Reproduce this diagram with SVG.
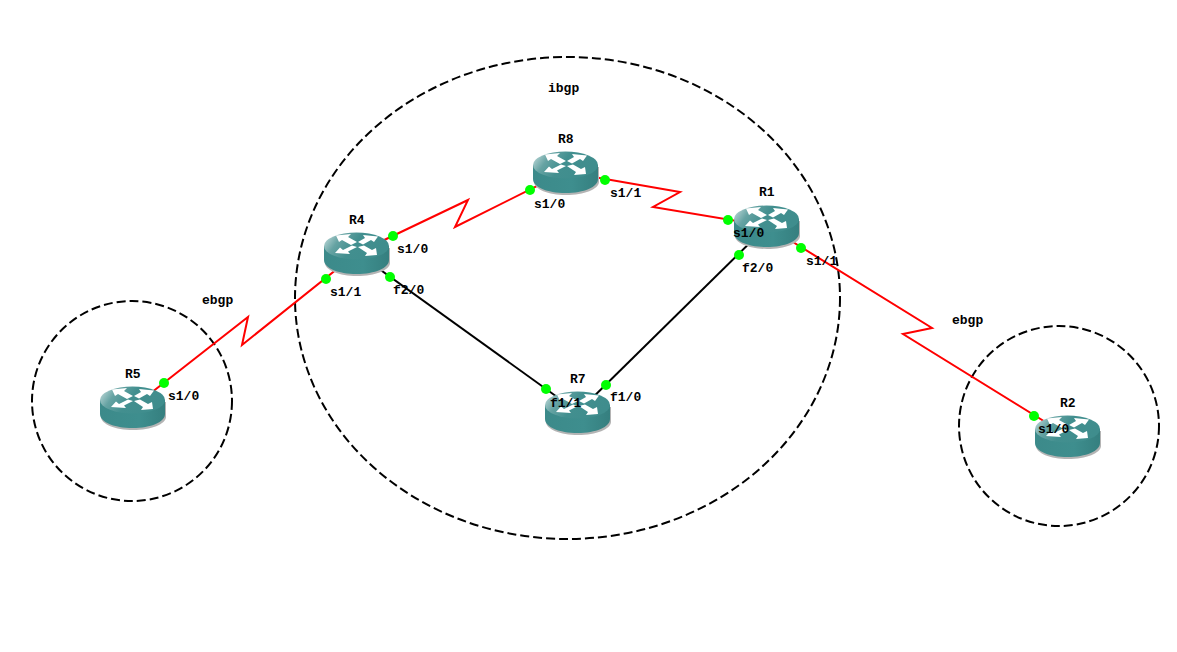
<svg xmlns="http://www.w3.org/2000/svg" width="1177" height="652" viewBox="0 0 1177 652">
<style>
text{font-family:"Liberation Mono","DejaVu Sans Mono",monospace;font-weight:700;font-size:13px;fill:#000}
.zone{fill:none;stroke:#000;stroke-width:2;stroke-dasharray:9 4}
.red{fill:none;stroke:#f00;stroke-width:2}
.blk{fill:none;stroke:#000;stroke-width:2}
.dot{fill:#0f0}
.arrow{fill:#fff}
</style>
<defs>
<linearGradient id="top" x1="0" y1="0" x2="1" y2="0.3"><stop offset="0" stop-color="#cfe3e3"/><stop offset="0.28" stop-color="#66a3a3"/><stop offset="0.55" stop-color="#428f8f"/><stop offset="1" stop-color="#3f8d8d"/></linearGradient>
<linearGradient id="side" x1="0" y1="0" x2="1" y2="0"><stop offset="0" stop-color="#3c8a8a"/><stop offset="0.6" stop-color="#3e8e8e"/><stop offset="1" stop-color="#357f7f"/></linearGradient>
<symbol id="router" width="70" height="46" viewBox="0 0 70 46" overflow="visible">
<path d="M1 16V31C1 38 15 44 33 44S66 38 66 31V16Z" fill="#b4b4b4"/>
<path d="M0 14V28C0 36 14 42 32.500 42S65 36 65 28V14Z" fill="url(#side)"/>
<ellipse cx="32.500" cy="14" rx="32.500" ry="13.500" fill="url(#top)"/>
<path class="arrow" d="M12 3.500L27 2L24 5L33 10L27 13L18 8L15 10Z"/>
<path class="arrow" d="M54 4.500L39 3L41 6L34 10L39 12.500L47 8L50 10Z"/>
<path class="arrow" d="M11 21L26 22L24 19.500L33 15L28 13.500L19 18L16 15.500Z"/>
<path class="arrow" d="M53 23L41 24L43 21L34 15L40 13.500L48 18L52 16Z"/>
</symbol>
</defs>
<rect width="1177" height="652" fill="#fff"/>
<g id="zones">
<ellipse id="zone-ibgp" class="zone" cx="567.500" cy="298" rx="272.500" ry="241"/>
<circle id="zone-r5" class="zone" cx="132" cy="401" r="100"/>
<circle id="zone-r2" class="zone" cx="1059" cy="426" r="100"/>
</g>
<g id="connectors">
<polyline class="red" points="357,253 468,200 455,227 565,172"/>
<polyline class="red" points="565,172 680,192 653,207 767,226"/>
<polyline class="red" points="133,407 248,317 242,345 357,253"/>
<polyline class="red" points="767,226 932,328 903,334 1068,436"/>
<line class="blk" x1="357" y1="253" x2="578" y2="412"/>
<line class="blk" x1="578" y1="412" x2="767" y2="226"/>
</g>
<g id="R8"><use href="#router" x="533" y="151"/><text x="558" y="143">R8</text></g>
<g id="R4"><use href="#router" x="324" y="232"/><text x="349" y="224">R4</text></g>
<g id="R1"><use href="#router" x="734" y="205"/><text x="759" y="196">R1</text></g>
<g id="R5"><use href="#router" x="100" y="386"/><text x="125" y="378">R5</text></g>
<g id="R7"><use href="#router" x="545" y="391"/><text x="570" y="383">R7</text></g>
<g id="R2"><use href="#router" x="1035" y="415"/><text x="1060" y="407">R2</text></g>
<g id="ports">
<circle class="dot" cx="530" cy="190" r="5"/><circle class="dot" cx="605" cy="180" r="5"/>
<circle class="dot" cx="393" cy="236" r="5"/><circle class="dot" cx="326" cy="279" r="5"/><circle class="dot" cx="390" cy="277" r="5"/>
<circle class="dot" cx="728" cy="220" r="5"/><circle class="dot" cx="801" cy="248" r="5"/><circle class="dot" cx="739" cy="255" r="5"/>
<circle class="dot" cx="164" cy="383" r="5"/>
<circle class="dot" cx="546" cy="389" r="5"/><circle class="dot" cx="606" cy="385" r="5"/>
<circle class="dot" cx="1034" cy="416" r="5"/>
</g>
<g id="labels">
<text x="548" y="92">ibgp</text><text x="202" y="304">ebgp</text><text x="952" y="324">ebgp</text>
<text x="534" y="208">s1/0</text><text x="610" y="197">s1/1</text>
<text x="397" y="253">s1/0</text><text x="330" y="296">s1/1</text><text x="393" y="294">f2/0</text>
<text x="733" y="237">s1/0</text><text x="806" y="265">s1/1</text><text x="742" y="272">f2/0</text>
<text x="168" y="400">s1/0</text>
<text x="550" y="407">f1/1</text><text x="610" y="401">f1/0</text>
<text x="1038" y="433">s1/0</text>
</g>
</svg>
